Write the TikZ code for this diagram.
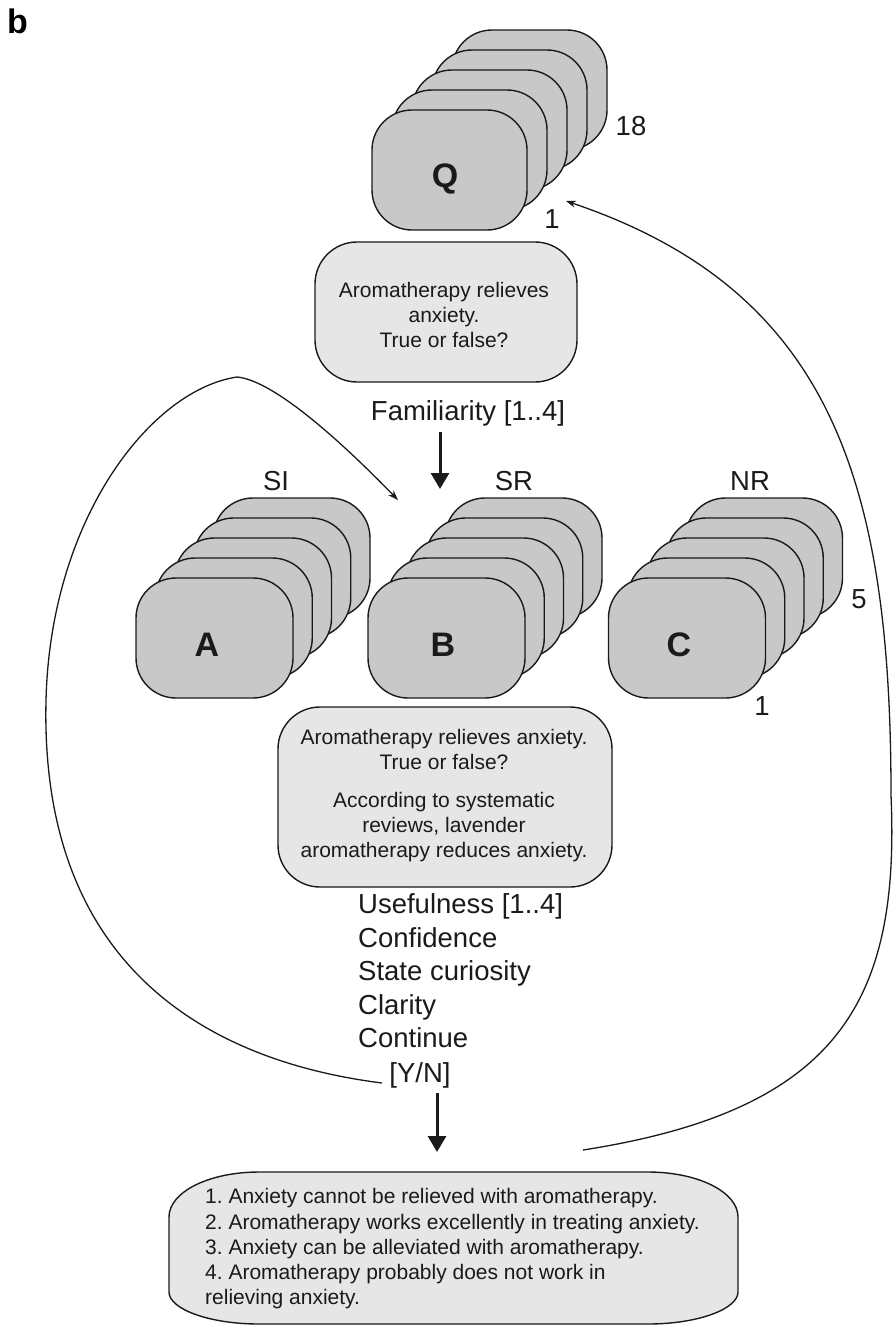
\documentclass[tikz,border=0pt]{standalone}
\usepackage{fontspec}
\setmainfont{Liberation Sans}
\usetikzlibrary{arrows.meta}
\definecolor{cardfill}{HTML}{C8C8C8}
\definecolor{boxfill}{HTML}{E6E6E6}
\definecolor{ink}{HTML}{1A1A1A}
\frenchspacing
\begin{document}
\begin{tikzpicture}[x=1pt,y=-1pt,
 card/.style={draw=ink, line width=1.4pt, fill=cardfill, rounded corners=40pt, minimum width=157pt, minimum height=120pt, inner sep=0pt},
 qcard/.style={card, minimum width=155pt},
 tbox/.style={draw=ink, line width=1.4pt, fill=boxfill, rounded corners=42pt, inner sep=0pt},
 smalltxt/.style={font=\fontsize{21}{25}\selectfont, anchor=base, inner sep=0pt, text=ink},
 bigtxt/.style={font=\fontsize{27.5}{33}\selectfont, anchor=base, inner sep=0pt, text=ink},
 lettertxt/.style={font=\fontsize{34}{40}\selectfont\bfseries, anchor=base, inner sep=0pt, text=ink},
 bigarrow/.style={line width=3pt, draw=ink, -{Triangle[length=16pt,width=18pt]}},
 backcurve/.style={line width=1.3pt, draw=ink, -{Stealth[length=10pt,width=7pt]}},
]
\useasboundingbox (0,0) rectangle (894,1326);

% panel label
\node[font=\fontsize{34}{40}\selectfont\bfseries, anchor=base west, inner sep=0pt] (lbl) at (7,33) {b};

% Q stack
\foreach \i in {4,3,2,1,0} \node[qcard] (Q\i) at ({449.5+20*\i},{170-20*\i}) {};
\node[lettertxt] (Qt) at (445,187) {Q};
\node[bigtxt] (n18) at (631,135) {18};
\node[bigtxt] (nq1) at (552,228) {1};

% Question box
\node[tbox, minimum width=262pt, minimum height=140pt] (qbox) at (446,312) {};
\node[smalltxt] (q1) at (444,297) {Aromatherapy relieves};
\node[smalltxt] (q2) at (444,322) {anxiety.};
\node[smalltxt] (q3) at (444,347) {True or false?};

\node[bigtxt] (fam) at (468,420) {Familiarity [1..4]};
\coordinate (fa1) at (440,432);
\coordinate (fa2) at (440,489);
\draw[bigarrow] (fa1) -- (fa2);

% Stacks A, B, C
\foreach \i in {4,3,2,1,0} \node[card] (A\i) at ({214.5+19.25*\i},{638-20*\i}) {};
\foreach \i in {4,3,2,1,0} \node[card] (B\i) at ({446.5+19.25*\i},{638-20*\i}) {};
\foreach \i in {4,3,2,1,0} \node[card] (C\i) at ({687+19.25*\i},{638-20*\i}) {};
\node[lettertxt] (At) at (207,656) {A};
\node[lettertxt] (Bt) at (443,656) {B};
\node[lettertxt] (Ct) at (679,656) {C};
\node[bigtxt] (SI) at (276,490) {SI};
\node[bigtxt] (SR) at (514,490) {SR};
\node[bigtxt] (NR) at (750,490) {NR};
\node[bigtxt] (n5) at (859,608) {5};
\node[bigtxt] (nc1) at (762,715) {1};

% Middle box
\node[tbox, minimum width=334pt, minimum height=180pt] (mbox) at (445,797) {};
\node[smalltxt] (m1) at (444,744) {Aromatherapy relieves anxiety.};
\node[smalltxt] (m2) at (444,769) {True or false?};
\node[smalltxt] (m3) at (444,807) {According to systematic};
\node[smalltxt] (m4) at (444,832) {reviews, lavender};
\node[smalltxt] (m5) at (444,857) {aromatherapy reduces anxiety.};

% Measures list
\node[bigtxt, anchor=base west] (u1) at (358,913) {Usefulness [1..4]};
\node[bigtxt, anchor=base west] (u2) at (358,947) {Confidence};
\node[bigtxt, anchor=base west] (u3) at (358,980) {State curiosity};
\node[bigtxt, anchor=base west] (u4) at (358,1014) {Clarity};
\node[bigtxt, anchor=base west] (u5) at (358,1047) {Continue};
\node[bigtxt] (yn) at (420,1082) {[Y/N]};

\coordinate (ua1) at (437,1093);
\coordinate (ua2) at (437,1152);
\draw[bigarrow] (ua1) -- (ua2);

% Bottom box
\draw[draw=ink, line width=1.4pt, fill=boxfill]
  (259,1172) -- (648,1172)
  .. controls (698,1172) and (738,1192) .. (738,1217)
  -- (738,1292)
  .. controls (738,1309) and (698,1324) .. (648,1324)
  -- (259,1324)
  .. controls (209,1324) and (169,1309) .. (169,1292)
  -- (169,1217)
  .. controls (169,1192) and (209,1172) .. (259,1172) -- cycle;
\node[smalltxt, anchor=base west] (b1) at (205,1203) {1. Anxiety cannot be relieved with aromatherapy.};
\node[smalltxt, anchor=base west] (b2) at (205,1229) {2. Aromatherapy works excellently in treating anxiety.};
\node[smalltxt, anchor=base west] (b3) at (205,1254) {3. Anxiety can be alleviated with aromatherapy.};
\node[smalltxt, anchor=base west] (b4) at (205,1279) {4. Aromatherapy probably does not work in};
\node[smalltxt, anchor=base west] (b5) at (205,1304) {relieving anxiety.};

% Feedback curves
\coordinate (ls) at (382,1083);
\coordinate (lm) at (46,701);
\coordinate (lp) at (237,377);
\coordinate (lt) at (398,500);
\draw[backcurve] (ls) .. controls (200,1060) and (40,960) .. (lm)
  .. controls (50,520) and (150,390) .. (lp)
  .. controls (270,380) and (330,430) .. (lt);

\coordinate (rs) at (583,1150);
\coordinate (rm) at (891,795);
\coordinate (rt) at (566,201);
\draw[backcurve] (rs) .. controls (840,1110) and (900,1000) .. (rm)
  .. controls (891,480) and (830,290) .. (rt);
\end{tikzpicture}
\end{document}
